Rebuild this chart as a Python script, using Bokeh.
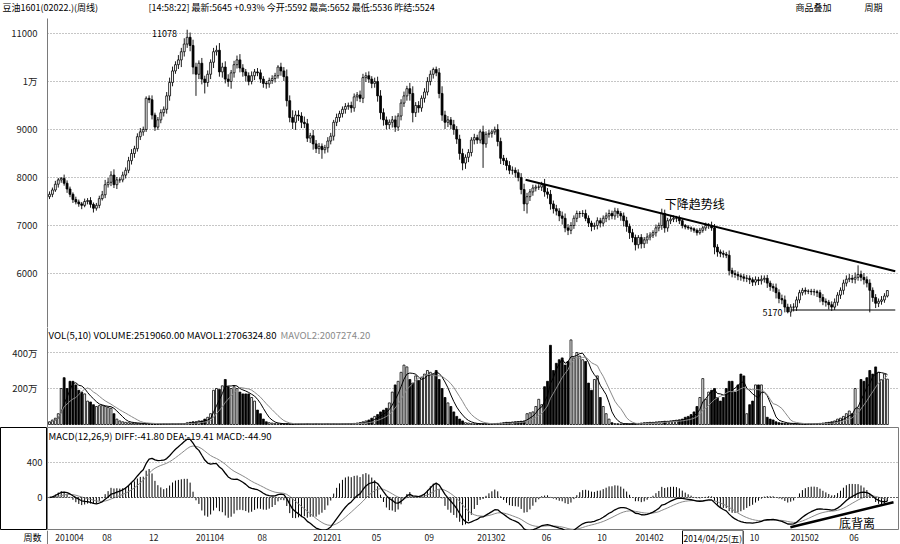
import pandas as pd
from bokeh.plotting import figure
from bokeh.layouts import column, row
from bokeh.models import (Range1d, FixedTicker, Label, Span, ColumnDataSource)
from bokeh.core.properties import value
from bokeh.embed import file_html
from bokeh.resources import INLINE

# ---------------- data (weekly bars) ----------------
first_open = 7600
closes = [
    7650, 7740, 7860, 7950, 7980, 7880, 7760, 7650, 7540, 7490,
    7450, 7420, 7500, 7520, 7440, 7360, 7420, 7560, 7640, 7850,
    7900, 8050, 7850, 7950, 7950, 8050, 8150, 8350, 8500, 8600,
    8850, 8950, 9000, 9650, 9620, 9300, 9050, 9200, 9350, 9420,
    9700, 9980, 10220, 10350, 10450, 10620, 10780, 10920, 10750, 10300,
    10150, 10380, 10050, 9980, 10150, 10400, 10620, 10650, 10200, 10300,
    10050, 10000, 10180, 10350, 10450, 10280, 10200, 10120, 10000, 10120,
    10200, 10180, 10050, 9960, 9950, 10020, 10060, 10120, 10300, 10220,
    10100, 9600, 9250, 9150, 9300, 9280, 9150, 9120, 8820, 8870,
    8700, 8600, 8650, 8580, 8620, 8760, 8860, 9150, 9250, 9330,
    9420, 9480, 9500, 9450, 9680, 9720, 9650, 10080, 10120, 10050,
    9960, 10000, 9700, 9350, 9200, 9100, 9150, 9200, 9050, 9280,
    9550, 9700, 9850, 9750, 9350, 9500, 9450, 9650, 9780, 10000,
    10150, 10250, 10180, 9750, 9300, 9150, 9200, 9100, 9000, 8800,
    8500, 8300, 8420, 8520, 8780, 8830, 8780, 8950, 8700, 8900,
    8920, 8950, 9000, 8750, 8400, 8350, 8250, 8150, 8150, 8100,
    8000, 7750, 7450, 7600, 7700, 7780, 7800, 7800, 7850, 7700,
    7650, 7450, 7350, 7300, 7200, 7150, 6950, 6900, 7000, 7150,
    7250, 7250, 7250, 7150, 7050, 6980, 7000, 7100, 7050, 7150,
    7200, 7250, 7200, 7300, 7250, 7200, 7100, 6980, 6850, 6750,
    6600, 6750, 6620, 6700, 6760, 6800, 6850, 6950, 7000, 7250,
    6950, 7100, 7130, 7150, 7150, 7100, 7000, 6970, 6950, 6930,
    6900, 6850, 6900, 6950, 7000, 7000, 6950, 6550, 6450, 6420,
    6400, 6380, 6060, 6000, 5980, 5950, 5930, 5900, 5900, 5870,
    5820, 5870, 5850, 5880, 5900, 5800, 5730, 5700, 5600, 5480,
    5450, 5300, 5200, 5300, 5300, 5450, 5600, 5650, 5630, 5630,
    5620, 5620, 5600, 5500, 5420, 5400, 5350, 5300, 5400, 5550,
    5650, 5800, 5880, 5900, 5880, 5920, 5980, 5920, 5870, 5800,
    5650, 5500, 5380, 5420, 5450, 5530, 5645,
]
wick_up = [
    60, 50, 70, 40, 30, 80, 60, 50, 40, 60, 50, 40, 60, 50, 70, 40, 50, 60, 80, 100,
    90, 80, 120, 60, 50, 70, 60, 80, 90, 60, 70, 80, 60, 40, 60, 90, 50, 60, 70, 60,
    80, 100, 90, 70, 100, 80, 120, 158, 100, 120, 90, 60, 110, 70, 80, 60, 80, 100, 150, 90,
    120, 100, 60, 80, 90, 120, 80, 60, 70, 90, 60, 80, 70, 60, 50, 60, 70, 60, 40, 90,
    80, 150, 110, 150, 90, 100, 80, 120, 100, 60, 120, 80, 70, 60, 60, 80, 70, 50, 80, 60,
    60, 70, 60, 80, 70, 60, 90, 80, 70, 90, 60, 80, 100, 120, 90, 70, 60, 80, 90, 60,
    80, 90, 60, 120, 150, 70, 90, 60, 80, 90, 80, 40, 60, 100, 150, 90, 80, 60, 100, 70,
    90, 100, 60, 70, 60, 80, 60, 50, 130, 60, 70, 50, 60, 110, 80, 70, 60, 90, 80, 60,
    70, 90, 120, 80, 60, 70, 50, 60, 60, 120, 80, 90, 70, 80, 60, 90, 100, 80, 70, 60,
    60, 50, 70, 80, 60, 50, 60, 70, 60, 60, 70, 80, 60, 70, 60, 50, 70, 80, 60, 80,
    60, 50, 70, 60, 80, 60, 50, 70, 60, 100, 80, 60, 70, 60, 50, 60, 40, 30, 40, 30,
    30, 40, 50, 40, 60, 50, 80, 80, 60, 50, 60, 50, 100, 60, 70, 60, 50, 60, 70, 60,
    50, 70, 60, 80, 60, 70, 50, 60, 90, 70, 80, 90, 70, 60, 80, 70, 60, 50, 60, 40,
    50, 60, 40, 60, 70, 60, 50, 70, 80, 60, 60, 70, 80, 90, 70, 100, 190, 80, 90, 70,
    80, 60, 70, 60, 80, 60, 7,
]
wick_dn = [
    50, 60, 40, 70, 60, 50, 80, 60, 70, 50, 60, 80, 40, 60, 70, 90, 50, 60, 40, 70,
    60, 80, 70, 90, 60, 50, 70, 60, 80, 90, 60, 70, 80, 50, 70, 90, 80, 60, 70, 80,
    90, 100, 80, 60, 90, 150, 100, 80, 120, 150, 450, 100, 110, 230, 90, 100, 120, 80, 100, 120,
    90, 110, 150, 100, 80, 90, 100, 120, 80, 60, 90, 70, 80, 90, 100, 80, 70, 80, 60, 100,
    90, 120, 100, 140, 160, 100, 120, 90, 80, 100, 120, 90, 110, 190, 80, 100, 70, 90, 80, 90,
    80, 90, 70, 100, 80, 90, 80, 100, 90, 80, 100, 90, 120, 140, 120, 100, 90, 110, 100, 80,
    90, 80, 100, 150, 200, 90, 100, 80, 90, 70, 80, 90, 70, 100, 120, 140, 100, 90, 110, 100,
    130, 150, 120, 100, 80, 90, 80, 70, 500, 80, 70, 90, 60, 100, 120, 90, 100, 80, 90, 100,
    80, 100, 150, 200, 90, 80, 70, 60, 80, 100, 90, 120, 100, 90, 110, 130, 90, 100, 80, 70,
    80, 90, 70, 60, 80, 100, 70, 80, 90, 70, 80, 90, 70, 80, 90, 100, 120, 110, 130, 100,
    120, 80, 100, 90, 80, 70, 60, 80, 70, 90, 100, 80, 70, 60, 80, 70, 60, 50, 40, 60,
    50, 60, 40, 50, 60, 70, 60, 150, 100, 80, 70, 60, 100, 80, 70, 90, 80, 70, 80, 90,
    80, 70, 90, 80, 70, 100, 90, 80, 120, 100, 90, 110, 30, 100, 90, 80, 70, 60, 70, 60,
    70, 80, 90, 100, 80, 90, 100, 80, 60, 70, 80, 90, 70, 60, 80, 90, 70, 80, 100, 90,
    460, 90, 100, 80, 70, 60, 30,
]
# weekly volume, in 万
volume = [
    15, 25, 35, 60, 200, 260, 200, 240, 240, 220,
    190, 180, 170, 130, 125, 110, 100, 105, 105, 100,
    95, 90, 60, 30, 20, 15, 12, 10, 8, 8,
    6, 5, 5, 4, 4, 3, 4, 3, 3, 4,
    3, 3, 4, 3, 4, 4, 5, 10, 12, 15,
    15, 20, 20, 30, 40, 60, 190, 200, 195, 215,
    250, 210, 200, 210, 200, 180, 170, 170, 170, 150,
    130, 80, 60, 30, 15, 10, 8, 5, 4, 4,
    3, 4, 3, 3, 4, 3, 3, 3, 4, 3,
    3, 4, 3, 3, 3, 4, 3, 4, 3, 3,
    4, 4, 5, 5, 6, 8, 10, 15, 20, 25,
    35, 45, 55, 70, 80, 90, 120, 180, 220, 240,
    290, 330, 320, 250, 230, 270, 245, 260, 280, 300,
    290, 280, 300, 250, 200, 150, 120, 100, 70, 45,
    30, 20, 10, 8, 5, 4, 4, 3, 3, 4,
    3, 4, 5, 6, 8, 10, 12, 12, 14, 15,
    16, 18, 20, 60, 65, 70, 100, 140, 110, 210,
    240, 440, 300, 340, 360, 370, 330, 350, 470, 370,
    400, 380, 360, 350, 230, 190, 250, 270, 150, 100,
    60, 30, 10, 5, 4, 3, 3, 4, 3, 4,
    5, 6, 8, 10, 10, 12, 12, 14, 15, 16,
    18, 18, 20, 22, 24, 26, 30, 40, 45, 55,
    70, 100, 150, 255, 140, 180, 190, 200, 150, 130,
    150, 200, 240, 240, 180, 220, 280, 270, 60, 110,
    130, 220, 220, 220, 100, 40, 30, 25, 15, 10,
    8, 6, 5, 5, 4, 4, 3, 3, 3, 4,
    3, 4, 5, 6, 8, 10, 12, 15, 20, 30,
    35, 45, 60, 75, 60, 200, 90, 250, 240, 260,
    300, 280, 320, 290, 250, 280, 252,
]
tick_bars = [2, 18, 34, 50, 71, 90, 110, 128, 146, 168, 187, 200, 239, 253, 273]
tick_labels = ["201004", "08", "12", "201104", "08", "201201", "05", "09",
               "201302", "06", "10", "201402", "10", "201502", "06"]
price_ticks = [6000, 7000, 8000, 9000, 10000, 11000]
price_tick_labels = ["6000", "7000", "8000", "9000", "1万", "11000"]
vol_ticks = [200, 400]
vol_tick_labels = ["200万", "400万"]
macd_ticks = [0, 400]
macd_tick_labels = ["0", "400"]

# drawn annotations (bar index, value)
trend_x = [162.5, 288.7]
trend_y = [7952, 6048]
support_x = [253, 288.7]
support_y = [5240, 5240]
diverg_x = [252.9, 288.1]
diverg_y = [-339, -54]

# ---------------- derived series ----------------
N = len(closes)
xs = list(range(N))
opens = [first_open] + closes[:-1]
highs = [max(o, c) + u for o, c, u in zip(opens, closes, wick_up)]
lows = [min(o, c) - d for o, c, d in zip(opens, closes, wick_dn)]
rising = [c >= o for o, c in zip(opens, closes)]
fills = ["white" if r else "black" for r in rising]

s = pd.Series(closes, dtype=float)
diff = s.ewm(span=12, adjust=False).mean() - s.ewm(span=26, adjust=False).mean()
dea = diff.ewm(span=9, adjust=False).mean()
macd = 2 * (diff - dea)
v = pd.Series(volume, dtype=float)
mavol1 = v.rolling(5, min_periods=1).mean()
mavol2 = v.rolling(10, min_periods=1).mean()

src = ColumnDataSource(dict(
    x=xs, high=highs, low=lows,
    top=[max(o, c) for o, c in zip(opens, closes)],
    bot=[min(o, c) for o, c in zip(opens, closes)],
    fill=fills, vol=volume, zero=[0] * N,
    diff=list(diff), dea=list(dea), macd=list(macd),
    ma1=list(mavol1), ma2=list(mavol2),
))

FONT = "Noto Sans CJK SC"
GRID = "#8c8c8c"
EDGE = "#7a7a7a"
xr = Range1d(-0.68, 289.8)


def make_fig(w, h, yr, left=47, with_y=True, outline=None):
    kw = dict(x_axis_location=None)
    if not with_y:
        kw["y_axis_location"] = None
    p = figure(width=w, height=h, x_range=xr, y_range=yr, output_backend="svg",
               toolbar_location=None, min_border_left=left, min_border_right=2,
               min_border_top=0, min_border_bottom=0, **kw)
    p.outline_line_color = outline
    p.background_fill_color = "white"
    p.border_fill_color = "white"
    p.xgrid.visible = False
    p.ygrid.grid_line_color = GRID
    p.ygrid.grid_line_dash = "1 2"
    return p


def style_y(p, ticks, labels):
    p.yaxis.ticker = FixedTicker(ticks=ticks)
    p.yaxis.major_label_overrides = {t: l for t, l in zip(ticks, labels)}
    p.yaxis.major_tick_line_color = None
    p.yaxis.minor_tick_line_color = None
    p.yaxis.axis_line_color = EDGE
    p.yaxis.major_label_text_font = FONT
    p.yaxis.major_label_text_font_size = "9.5px"
    p.yaxis.major_label_text_color = "#222222"
    p.yaxis.major_label_standoff = 4


def blank_fig(w, h, xrange, yrange, right=0):
    p = figure(width=w, height=h, x_range=xrange, y_range=yrange, output_backend="svg",
               toolbar_location=None, x_axis_location=None, y_axis_location=None,
               min_border_left=0, min_border_right=right, min_border_top=0, min_border_bottom=0)
    p.outline_line_color = None
    p.grid.visible = False
    p.background_fill_color = "white"
    p.border_fill_color = "white"
    return p


def lab(p, x, y, text, size="9px", color="black", align="left", units="screen", **kw):
    p.add_layout(Label(x=x, y=y, x_units=units, y_units=units, text=text,
                       text_font=FONT, text_font_size=size, text_color=color,
                       text_align=align, text_baseline="middle", **kw))


# ---------------- header strip ----------------
p0 = blank_fig(900, 18, Range1d(0, 900), Range1d(0, 18))
lab(p0, 2, 11, "豆油1601(02022.)(周线)")
lab(p0, 148, 11, "[14:58:22] 最新:5645 +0.93% 今开:5592 最高:5652 最低:5536 昨结:5524")
lab(p0, 795, 11, "商品叠加")
lab(p0, 864, 11, "周期")

# ---------------- price panel ----------------
p1 = make_fig(900, 309, Range1d(4875, 11312))
style_y(p1, price_ticks, price_tick_labels)
p1.segment(x0="x", y0="high", x1="x", y1="low", source=src, line_color="black", line_width=0.9)
p1.vbar(x="x", width=0.66, top="top", bottom="bot", source=src,
        fill_color="fill", line_color="black", line_width=0.8)
p1.line(trend_x, trend_y, line_color="black", line_width=2)
p1.line(support_x, support_y, line_color="black", line_width=1.2)
lab(p1, 43.5, 11000, "11078", align="right", units="data")
lab(p1, 250.2, 5190, "5170", align="right", units="data")
lab(p1, 210, 7458, "下降趋势线", size="12px", units="data")

# ---------------- volume panel ----------------
p2 = make_fig(900, 100, Range1d(-16.7, 538.9))
style_y(p2, vol_ticks, vol_tick_labels)
p2.vbar(x="x", width=0.66, top="vol", bottom=0, source=src,
        fill_color="fill", line_color="black", line_width=0.8)
p2.line("x", "ma1", source=src, line_color="black", line_width=1)
p2.line("x", "ma2", source=src, line_color="#8a8a8a", line_width=1)
lab(p2, 1, 93, "VOL(5,10) VOLUME:2519060.00 MAVOL1:2706324.80", size="9.6px")
lab(p2, 233, 93, "MAVOL2:2007274.20", size="9.6px", color="#8a8a8a")

# ---------------- MACD panel (left label box + plot) ----------------
macd_yr = Range1d(-377, 800)
pbox = blank_fig(47, 103, Range1d(0, 47), macd_yr)
pbox.outline_line_color = "black"
pbox.text(x=[42] * len(macd_ticks), y=macd_ticks, text=macd_tick_labels,
          text_font=value(FONT), text_font_size="9.5px", text_color="#222222",
          text_align="right", text_baseline="middle")

p3 = make_fig(853, 103, macd_yr, left=0, with_y=False, outline=EDGE)
p3.ygrid.ticker = FixedTicker(ticks=macd_ticks)
p3.add_layout(Span(location=0, dimension="width", line_color="black", line_dash="1 2", line_width=1))
p3.segment(x0="x", y0="zero", x1="x", y1="macd", source=src, line_color="black", line_width=1)
p3.line("x", "dea", source=src, line_color="#8a8a8a", line_width=1)
p3.line("x", "diff", source=src, line_color="black", line_width=1.3)
p3.line(diverg_x, diverg_y, line_color="black", line_width=2.5)
lab(p3, 269.5, -288, "底背离", size="12px", units="data")
lab(p3, 1, 95, "MACD(12,26,9) DIFF:-41.80 DEA:-19.41 MACD:-44.90", size="9.5px")

# ---------------- date axis strip ----------------
p4 = blank_fig(900, 14, Range1d(-16.72, 289.8), Range1d(0, 14), right=2)
p4.text(x=tick_bars, y=[7] * len(tick_bars), text=tick_labels,
        text_font=value(FONT), text_font_size="8.5px", text_color="#222222",
        text_align="left", text_baseline="middle")
p4.add_layout(Span(location=-0.68, dimension="height", line_color=EDGE, line_width=1))
lab(p4, 23, 7, "周数", size="9px")
lab(p4, 682, 7, "2014/04/25(五)", size="8.5px", border_line_color="black",
    background_fill_color="white", padding=1)

layout = column(row(p0, spacing=0), p1, p2, row(pbox, p3, spacing=0), row(p4, spacing=0), spacing=0)
open("out.html", "w").write(file_html(layout, INLINE))
